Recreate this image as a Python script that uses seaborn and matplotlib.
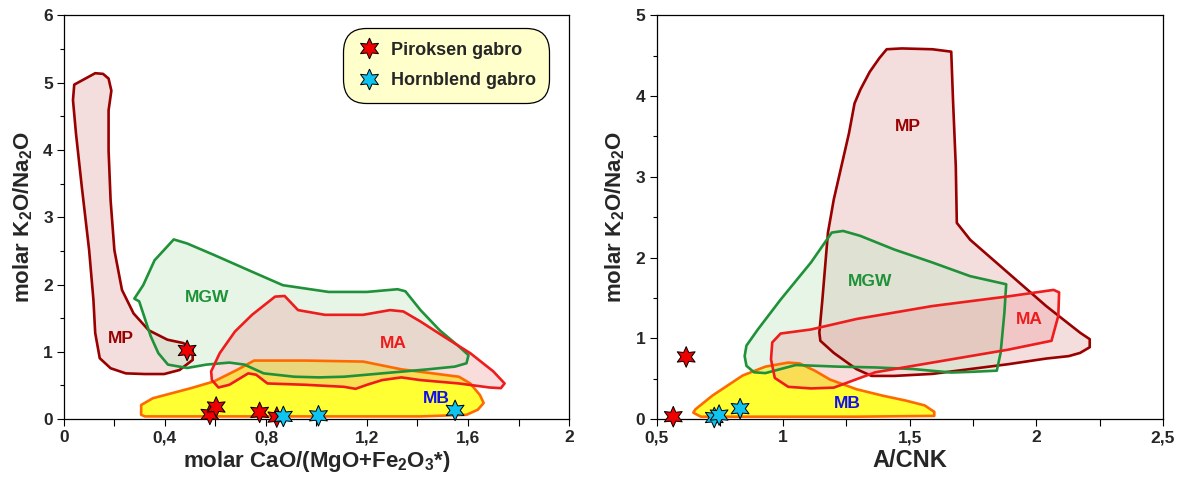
import numpy as np
import pandas as pd
import matplotlib
matplotlib.use("Agg")
import matplotlib.pyplot as plt
from matplotlib import font_manager
from matplotlib.lines import Line2D
import seaborn as sns

# ---- Field outlines, panel A: molar CaO/(MgO+Fe2O3*) vs molar K2O/Na2O ----
a_mp_x = [0.124, 0.155, 0.177, 0.188, 0.177, 0.177, 0.185, 0.200, 0.230, 0.276, 0.336, 0.410, 0.473,
          0.510, 0.510, 0.458, 0.397, 0.320, 0.245, 0.185, 0.142, 0.124, 0.117, 0.100, 0.071, 0.048,
          0.036, 0.041]
a_mp_y = [5.14, 5.13, 5.06, 4.88, 4.59, 3.99, 3.25, 2.51, 1.92, 1.57, 1.32, 1.18, 1.13,
          1.03, 0.88, 0.73, 0.67, 0.67, 0.68, 0.756, 0.905, 1.28, 1.77, 2.51, 3.45, 4.24,
          4.74, 4.97]
a_mgw_x = [0.279, 0.314, 0.359, 0.435, 0.488, 0.594, 0.745, 0.867, 1.048, 1.200, 1.321, 1.352, 1.412,
           1.488, 1.564, 1.602, 1.594, 1.548, 1.442, 1.260, 1.109, 1.011, 0.912, 0.791, 0.715, 0.655,
           0.564, 0.488, 0.412, 0.374, 0.344, 0.314, 0.298]
a_mgw_y = [1.79, 1.99, 2.36, 2.67, 2.61, 2.44, 2.19, 1.99, 1.89, 1.89, 1.93, 1.90, 1.62,
           1.32, 1.08, 0.95, 0.83, 0.78, 0.74, 0.68, 0.63, 0.62, 0.63, 0.68, 0.81, 0.84,
           0.81, 0.76, 0.81, 0.98, 1.23, 1.57, 1.75]
a_ma_x = [0.586, 0.583, 0.617, 0.677, 0.745, 0.836, 0.874, 0.927, 1.033, 1.185, 1.291, 1.344, 1.412,
          1.503, 1.609, 1.700, 1.745, 1.730, 1.685, 1.564, 1.412, 1.336, 1.260, 1.200, 1.155, 1.109,
          0.958, 0.806, 0.761, 0.730, 0.655, 0.612]
a_ma_y = [0.58, 0.71, 0.98, 1.30, 1.55, 1.82, 1.83, 1.62, 1.55, 1.55, 1.62, 1.60, 1.45,
          1.23, 0.98, 0.71, 0.53, 0.46, 0.47, 0.53, 0.58, 0.62, 0.58, 0.51, 0.45, 0.48,
          0.51, 0.53, 0.66, 0.68, 0.51, 0.47]
a_mb_x = [0.306, 0.306, 0.352, 0.503, 0.594, 0.685, 0.753, 0.958, 1.185, 1.336, 1.564, 1.609, 1.647,
          1.662, 1.639, 1.594, 1.412, 0.958, 0.503, 0.321]
a_mb_y = [0.064, 0.21, 0.31, 0.46, 0.56, 0.73, 0.87, 0.87, 0.855, 0.74, 0.63, 0.53, 0.36,
          0.24, 0.14, 0.064, 0.04, 0.04, 0.04, 0.04]

# ---- Field outlines, panel B: A/CNK vs molar K2O/Na2O ----
b_mp_x = [1.409, 1.469, 1.589, 1.664, 1.671, 1.682, 1.686, 1.739, 1.889, 2.039, 2.173, 2.211, 2.211,
          2.173, 2.128, 2.039, 1.889, 1.739, 1.589, 1.439, 1.349, 1.289, 1.200, 1.147, 1.143, 1.155,
          1.177, 1.200, 1.230, 1.260, 1.282, 1.305, 1.342, 1.380]
b_mp_y = [4.58, 4.59, 4.58, 4.55, 3.95, 3.13, 2.43, 2.22, 1.81, 1.40, 1.07, 0.99, 0.89,
          0.82, 0.78, 0.75, 0.68, 0.62, 0.56, 0.535, 0.535, 0.62, 0.82, 0.97, 1.07, 1.48,
          2.31, 2.72, 3.13, 3.54, 3.91, 4.08, 4.30, 4.47]
b_mgw_x = [0.848, 0.855, 0.900, 0.990, 1.110, 1.192, 1.237, 1.304, 1.439, 1.589, 1.739, 1.881, 1.874,
           1.859, 1.844, 1.739, 1.664, 1.514, 1.364, 1.215, 1.050, 0.990, 0.930, 0.885, 0.855]
b_mgw_y = [0.78, 0.91, 1.11, 1.48, 1.94, 2.31, 2.33, 2.27, 2.10, 1.94, 1.77, 1.67, 1.32,
           0.82, 0.60, 0.585, 0.577, 0.62, 0.64, 0.65, 0.67, 0.62, 0.57, 0.58, 0.66]
b_ma_x = [0.990, 1.110, 1.290, 1.589, 1.889, 2.068, 2.090, 2.087, 2.060, 1.889, 1.589, 1.364, 1.200,
          1.110, 1.020, 0.967, 0.952, 0.957]
b_ma_y = [1.06, 1.11, 1.24, 1.40, 1.52, 1.60, 1.57, 1.28, 0.97, 0.86, 0.70, 0.58, 0.39,
          0.38, 0.40, 0.51, 0.74, 0.95]
b_mb_x = [0.645, 0.653, 0.720, 0.840, 0.930, 1.020, 1.065, 1.125, 1.185, 1.290, 1.394, 1.484, 1.559,
          1.597, 1.597, 1.290, 0.840, 0.675]
b_mb_y = [0.08, 0.12, 0.29, 0.54, 0.65, 0.70, 0.69, 0.60, 0.49, 0.37, 0.29, 0.23, 0.17,
          0.09, 0.04, 0.03, 0.03, 0.03]

# ---- Samples ----
rock_types = ["Piroksen gabro", "Hornblend gabro"]
pir_cao_ratio = [0.488, 0.578, 0.603, 0.775, 0.843]
pir_k2o_na2o_a = [1.02, 0.07, 0.18, 0.10, 0.03]
hbl_cao_ratio = [0.869, 1.008, 1.549]
hbl_k2o_na2o_a = [0.04, 0.05, 0.13]
pir_acnk = [0.617, 0.566]
pir_k2o_na2o_b = [0.77, 0.03]
hbl_acnk = [0.728, 0.747, 0.830]
hbl_k2o_na2o_b = [0.02, 0.05, 0.13]

# ---- Axis ticks ----
a_xticks = [0, 0.4, 0.8, 1.2, 1.6, 2]
a_xminor = [0.2, 0.6, 1.0, 1.4, 1.8]
a_yticks = [0, 1, 2, 3, 4, 5, 6]
b_xticks = [0.5, 1, 1.5, 2, 2.5]
b_xminor = [0.75, 1.25, 1.75, 2.25]
b_yticks = [0, 1, 2, 3, 4, 5]

# ---- Style ----
sns.set_style("ticks")
plt.rcParams["font.family"] = ["Liberation Sans", "DejaVu Sans"]
plt.rcParams["font.weight"] = "bold"
plt.rcParams["mathtext.fontset"] = "custom"
plt.rcParams["mathtext.rm"] = "Liberation Sans"
plt.rcParams["mathtext.bf"] = "Liberation Sans:bold"
plt.rcParams["mathtext.it"] = "Liberation Sans:bold"
plt.rcParams["mathtext.default"] = "bf"

installed = {f.name for f in font_manager.fontManager.ttflist}
narrow = "Liberation Sans Narrow" if "Liberation Sans Narrow" in installed else None

C_MP, C_MGW, C_MA, C_MB = "#990000", "#1f9138", "#ee1c1c", "#ff6a00"
F_MP, F_MGW, F_MA, F_MB = "#e6b0b0", "#c4e8c4", "#ee9a9a", "#ffff33"
STAR_COLORS = {"Piroksen gabro": "#ee0000", "Hornblend gabro": "#10c4f2"}
STAR = (6, 1, 0)

fig = plt.figure(figsize=(11.83, 4.79), dpi=100)
ax1 = fig.add_axes([0.054, 0.125, 0.427, 0.843])
ax2 = fig.add_axes([0.555, 0.125, 0.428, 0.843])


def draw_fields(ax, fields):
    # translucent fills first, then outlines on top
    for x, y, edge, face, alpha in fields:
        ax.fill(x, y, color=face, alpha=alpha, lw=0, zorder=1)
    for x, y, edge, face, alpha in fields:
        ax.fill(x, y, facecolor="none", edgecolor=edge, lw=1.9, zorder=2, joinstyle="round")


draw_fields(ax1, [
    (a_mb_x, a_mb_y, C_MB, F_MB, 1.0),
    (a_mp_x, a_mp_y, C_MP, F_MP, 0.42),
    (a_mgw_x, a_mgw_y, C_MGW, F_MGW, 0.42),
    (a_ma_x, a_ma_y, C_MA, F_MA, 0.33),
])
draw_fields(ax2, [
    (b_mb_x, b_mb_y, C_MB, F_MB, 1.0),
    (b_mp_x, b_mp_y, C_MP, F_MP, 0.42),
    (b_mgw_x, b_mgw_y, C_MGW, F_MGW, 0.42),
    (b_ma_x, b_ma_y, C_MA, F_MA, 0.33),
])

df_a = pd.DataFrame({
    "x": pir_cao_ratio + hbl_cao_ratio,
    "y": pir_k2o_na2o_a + hbl_k2o_na2o_a,
    "rock": [rock_types[0]] * len(pir_cao_ratio) + [rock_types[1]] * len(hbl_cao_ratio),
})
df_b = pd.DataFrame({
    "x": pir_acnk + hbl_acnk,
    "y": pir_k2o_na2o_b + hbl_k2o_na2o_b,
    "rock": [rock_types[0]] * len(pir_acnk) + [rock_types[1]] * len(hbl_acnk),
})
for ax, df in ((ax1, df_a), (ax2, df_b)):
    sns.scatterplot(data=df, x="x", y="y", hue="rock", palette=STAR_COLORS, marker=STAR,
                    s=220, edgecolor="black", linewidth=0.7, ax=ax, legend=False, zorder=5,
                    clip_on=False)

# Field names
lab_kw = dict(fontsize=12.5, fontweight="bold", ha="center", va="center", zorder=6)
ax1.text(0.227, 1.20, "MP", color=C_MP, **lab_kw)
ax1.text(0.568, 1.80, "MGW", color=C_MGW, **lab_kw)
ax1.text(1.306, 1.13, "MA", color=C_MA, **lab_kw)
ax1.text(1.473, 0.30, "MB", color="#1010ee", **lab_kw)
ax2.text(1.493, 3.62, "MP", color=C_MP, **lab_kw)
ax2.text(1.345, 1.71, "MGW", color=C_MGW, **lab_kw)
ax2.text(1.971, 1.23, "MA", color=C_MA, **lab_kw)
ax2.text(1.255, 0.19, "MB", color="#1010ee", **lab_kw)


def comma(v):
    return f"{v:g}".replace(".", ",")


tick_font = dict(fontsize=12.5, fontweight="bold")

ax1.set_xlim(0, 2)
ax1.set_ylim(0, 6)
ax1.set_xticks(a_xticks, labels=[comma(v) for v in a_xticks], **tick_font)
ax1.set_xticks(a_xminor, minor=True)
ax1.set_yticks(a_yticks, labels=[comma(v) for v in a_yticks], **tick_font)
ax1.set_yticks([v + 0.5 for v in a_yticks[:-1]], minor=True)

ax2.set_xlim(0.5, 2.5)
ax2.set_ylim(0, 5)
ax2.set_xticks(b_xticks, labels=[comma(v) for v in b_xticks], **tick_font)
ax2.set_xticks(b_xminor, minor=True)
ax2.set_yticks(b_yticks, labels=[comma(v) for v in b_yticks], **tick_font)
ax2.set_yticks([v + 0.5 for v in b_yticks[:-1]], minor=True)

for ax in (ax1, ax2):
    ax.tick_params(which="both", direction="out", color="black", width=0.8)
    ax.tick_params(axis="x", which="both", length=5, pad=3)
    ax.tick_params(axis="y", which="major", length=5, pad=3)
    ax.tick_params(axis="y", which="minor", length=3)
    for sp in ax.spines.values():
        sp.set_visible(True)
        sp.set_color("black")
        sp.set_linewidth(0.9)
    ax.set_facecolor("white")
    ax.set_ylabel(r"molar K$_\mathregular{2}$O/Na$_\mathregular{2}$O", fontsize=16,
                  fontweight="bold", labelpad=6)

ax1.set_xlabel(r"molar CaO/(MgO+Fe$_\mathregular{2}$O$_\mathregular{3}$*)", fontsize=16,
               fontweight="bold", labelpad=3)
ax2.set_xlabel("A/CNK", fontsize=17, fontweight="bold", labelpad=3)

# Legend
handles = [Line2D([], [], ls="none", marker=STAR, markersize=15, markerfacecolor=STAR_COLORS[r],
                  markeredgecolor="black", markeredgewidth=0.7, label=r) for r in rock_types]
if narrow:
    leg_prop = {"family": narrow, "weight": "bold", "size": 15}
else:
    leg_prop = {"family": "Liberation Sans", "weight": "bold", "size": 13}
leg = ax1.legend(handles=handles, loc="upper right", bbox_to_anchor=(0.961, 0.968), frameon=True,
                 handletextpad=0.5, handlelength=1.4, labelspacing=0.75, borderpad=0.75,
                 borderaxespad=0.0, prop=leg_prop)
frame = leg.get_frame()
frame.set_facecolor("#ffffcc")
frame.set_edgecolor("black")
frame.set_alpha(1)
frame.set_linewidth(0.9)
frame.set_boxstyle("round,pad=0,rounding_size=1.3")

fig.savefig("out.png", dpi=100)
